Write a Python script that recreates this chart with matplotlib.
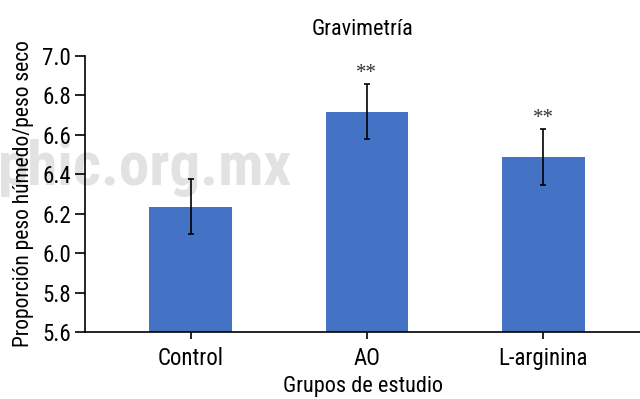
import numpy as np
import matplotlib.pyplot as plt

plt.rcParams['font.family'] = ['Roboto Condensed', 'Liberation Sans', 'DejaVu Sans']

grupos = ['Control', 'AO', 'L-arginina']
ratio = [6.235, 6.716, 6.487]
err = [0.14, 0.14, 0.14]
signif = ['', '**', '**']

fig = plt.figure(figsize=(6.4, 3.99), dpi=100)
ax = fig.add_axes([0.133, 0.168, 0.867, 0.692])

# watermark behind everything
fig.text(-0.004, 0.578, 'phic.org.mx', fontsize=44, fontweight='bold',
         color='#e2e2e2', va='center', ha='left', zorder=0)
ax.set_zorder(1)
ax.patch.set_alpha(0)

x = np.arange(len(grupos))
ax.bar(x, ratio, width=0.47, color='#4472C4', zorder=2)
ax.errorbar(x, ratio, yerr=err, fmt='none', ecolor='black', elinewidth=1.2,
            capsize=2.5, capthick=1.2, zorder=3)
for xi, v, e, s in zip(x, ratio, err, signif):
    if s:
        ax.text(xi, v + e + 0.005, s, ha='center', va='bottom', fontsize=15,
                family='Liberation Serif', color='#333333')

ax.set_xlim(-0.6, 2.55)
ax.set_ylim(5.6, 7.0)
ax.set_yticks(np.arange(5.6, 7.01, 0.2))
ax.set_yticklabels([f'{t:.1f}' for t in np.arange(5.6, 7.01, 0.2)])
ax.set_xticks(x)
ax.set_xticklabels(grupos)
ax.tick_params(axis='y', labelsize=16.5, length=7, width=1.2, pad=3)
ax.tick_params(axis='x', labelsize=16.5, length=5, width=1.2, pad=6)
ax.spines['top'].set_visible(False)
ax.spines['right'].set_visible(False)
ax.spines['left'].set_linewidth(1.2)
ax.spines['bottom'].set_linewidth(1.2)

ax.set_title('Gravimetría', fontsize=16, pad=15)
ax.set_xlabel('Grupos de estudio', fontsize=16, labelpad=4)
ax.set_ylabel('Proporción peso húmedo/peso seco', fontsize=15.5, labelpad=6)

fig.savefig('out.png', dpi=100)
